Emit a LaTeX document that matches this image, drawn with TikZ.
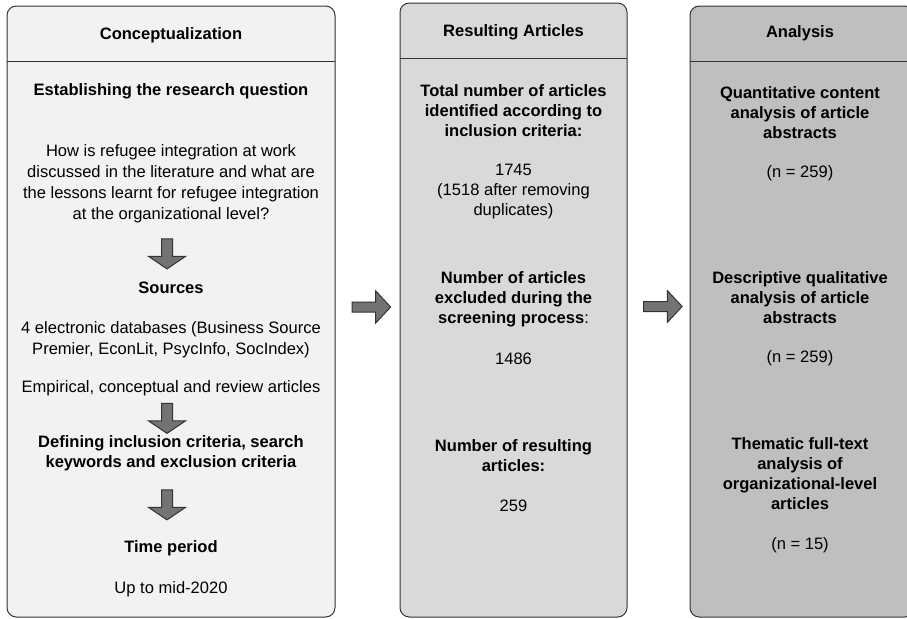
\documentclass[tikz,border=0pt]{standalone}
\usepackage{fontspec}
\setmainfont{Liberation Sans}
\usepackage{tikz}
\usetikzlibrary{shapes.arrows}
\definecolor{conceptfill}{HTML}{F2F2F2}
\definecolor{resultfill}{HTML}{D9D9D9}
\definecolor{analysisfill}{HTML}{BFBFBF}
\definecolor{edgegray}{HTML}{333333}
\definecolor{arrowfill}{HTML}{737373}
\newcommand{\bodysize}{\fontsize{12.4}{15}\selectfont}
\newcommand{\widesize}{\fontsize{12.4}{15.75}\selectfont}

\begin{document}
\begin{tikzpicture}[x=0.75pt, y=-0.75pt,
  panel/.style={draw=edgegray, line width=0.75pt, rounded corners=7pt},
  rule/.style={draw=edgegray, line width=0.75pt},
  txt/.style={align=center, inner sep=0pt, font=\bodysize},
  wtxt/.style={txt, font=\widesize},
  hd/.style={txt, font=\bodysize\bfseries},
  rarrow/.style={single arrow, draw=edgegray, fill=arrowfill, line width=0.75pt,
    inner xsep=0pt, inner ysep=3.375pt, minimum width=0pt, minimum height=29pt,
    single arrow head extend=8.25pt, single arrow tip angle=94},
  darrow/.style={rarrow, rotate=-90, inner ysep=3.75pt, minimum height=22.5pt,
    single arrow head extend=9.75pt, single arrow tip angle=112}]
\useasboundingbox (0,0) rectangle (907,618);
%
% panels
\draw[panel, fill=conceptfill] (7,6) rectangle (335,617);
\draw[rule] (7,61) -- (335,61);
\draw[panel, fill=resultfill] (400,3) rectangle (627,617);
\draw[rule] (400,58) -- (627,58);
\draw[panel, fill=analysisfill] (690,6) rectangle (914,617);
\draw[rule] (690,61) -- (914,61);
%
% conceptualization
\node[hd](concept) at (171,35) {Conceptualization};
\node[hd](question) at (171,91) {Establishing the research question};
\node[wtxt](rq) at (171,183.5) {How is refugee integration at work\\discussed in the literature and what are\\the lessons learnt for refugee integration\\at the organizational level?};
\node[darrow](down1) at (167,252) {};
\node[hd](sources) at (171,288) {Sources};
\node[wtxt](dbs) at (171,339.5) {4 electronic databases (Business Source\\Premier, EconLit, PsycInfo, SocIndex)};
\node[txt](types) at (171,388) {Empirical, conceptual and review articles};
\node[darrow](down2) at (167,416.5) {};
\node[hd](criteria) at (171,453) {Defining inclusion criteria, search\\keywords and exclusion criteria};
\node[darrow](down3) at (167,503) {};
\node[hd](period) at (171,548) {Time period};
\node[txt](upto) at (171,589) {Up to mid-2020};
%
% resulting articles
\node[rarrow](right1) at (369,307) {};
\node[hd](results) at (513.5,32) {Resulting Articles};
\node[hd](total) at (513.5,111) {Total number of articles\\identified according to\\inclusion criteria:};
\node[txt](totalnum) at (513.5,191.5) {1745\\(1518 after removing\\duplicates)};
\node[hd](excluded) at (513.5,299.5) {Number of articles\\excluded during the\\screening process\textmd{:}};
\node[txt](excludednum) at (513.5,359) {1486};
\node[hd](final) at (513.5,456) {Number of resulting\\articles:};
\node[txt](finalnum) at (513.5,506) {259};
%
% analysis
\node[rarrow](right2) at (660.5,306.5) {};
\node[hd](analysis) at (800,33) {Analysis};
\node[hd](quant) at (800,113) {Quantitative content\\analysis of article\\abstracts};
\node[txt](quantn) at (800,173) {(n = 259)};
\node[hd](qual) at (800,297.5) {Descriptive qualitative\\analysis of article\\abstracts};
\node[txt](qualn) at (800,358) {(n = 259)};
\node[hd](thematic) at (800,474) {Thematic full-text\\analysis of\\organizational-level\\articles};
\node[txt](thematicn) at (800,545) {(n = 15)};
\end{tikzpicture}
\end{document}
